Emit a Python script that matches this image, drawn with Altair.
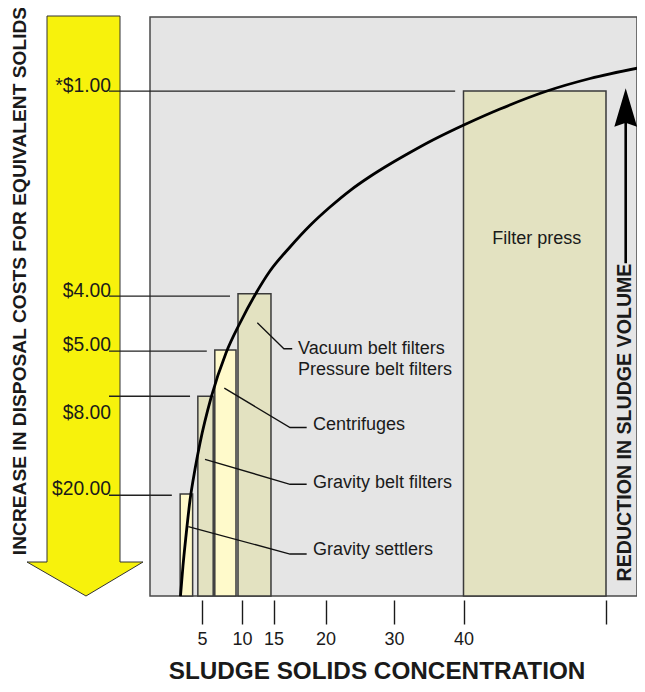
import altair as alt
import pandas as pd

FONT = "Liberation Sans"
INK = "#1a1a1a"

# --- x scale: the figure's concentration axis is not uniform (piecewise) ---
x_domain = [0, 5, 10, 15, 20, 30, 40, 50, 52.18]
x_range = [0, 52, 92, 123.5, 175.5, 244, 313.5, 456, 487]
x_ticks = [5, 10, 15, 20, 30, 40, 50]

# --- bars (dewatering processes) ---
processes = ["Gravity settlers", "Gravity belt filters", "Centrifuges",
             "Vacuum belt filters", "Filter press"]
bar_x0 = [2.9, 4.6, 6.6, 9.5, 40]
bar_x1 = [4.1, 6.4, 9.25, 14.6, 50]
bar_top = [17.6, 34.5, 42.5, 52.2, 87.2]
bar_fill = ["#fffacb", "#e3e2c1", "#fffacb", "#e3e2c1", "#e3e2c1"]

# --- disposal cost labels ---
cost_labels = ["*$1.00", "$4.00", "$5.00", "$8.00", "$20.00"]
cost_level = [87.2, 51.8, 42.3, 34.5, 17.4]
cost_label_y = [87.1, 51.7, 42.4, 30.5, 17.5]
cost_line_end = [38.8, 8.5, 5.6, 3.85, 2.1]

# --- sludge volume reduction curve ---
curve_x = [2.93, 3.17, 3.46, 3.85, 4.33, 4.81, 6.125, 8.0, 9.75, 12.06, 14.44,
           16.59, 18.51, 20.66, 23.58, 26.5, 29.42, 32.3, 35.18, 38.06, 40.25,
           42.56, 45.86, 48.88, 52.6]
curve_y = [0, 5.18, 10.36, 16.58, 21.93, 26.42, 34.2, 41.97, 47.15, 51.99, 56.13,
           60.28, 63.99, 67.18, 70.03, 72.45, 74.61, 76.6, 78.5, 80.23, 81.61,
           84.11, 87.22, 89.38, 91.36]

# --- annotation labels and their leader lines ---
ann_text = ["Vacuum belt filters", "Pressure belt filters", "Centrifuges",
            "Gravity belt filters", "Gravity settlers"]
ann_x = [17.36, 17.36, 18.8, 18.8, 18.8]
ann_y = [42.7, 39.0, 29.5, 19.6, 7.9]

lead_group = [0, 0, 0, 1, 1, 1, 2, 2, 2, 3, 3, 3]
lead_order = [0, 1, 2, 0, 1, 2, 0, 1, 2, 0, 1, 2]
lead_x = [12.43, 16.0, 16.8, 7.79, 16.59, 18.19, 5.375, 16.59, 18.19, 3.68, 16.59, 18.19]
lead_y = [47.2, 42.7, 42.7, 35.9, 29.1, 29.1, 23.6, 19.3, 19.3, 12.0, 7.25, 7.25]

press_label = ["Filter press"]
press_x = [45.14]
press_y = [61.7]

left_title = "INCREASE IN DISPOSAL COSTS FOR EQUIVALENT SOLIDS"
right_title = "REDUCTION IN SLUDGE VOLUME"
x_title = "SLUDGE SOLIDS CONCENTRATION"

# ---------------------------------------------------------------------------
xs = alt.Scale(domain=x_domain, range=x_range, nice=False, zero=False)
ys = alt.Scale(domain=[0, 100], nice=False, zero=False)

x_axis = alt.Axis(
    values=x_ticks, title=x_title, domain=False, grid=False,
    tickSize=24, tickWidth=1.4, tickColor=INK, offset=4,
    labelFont=FONT, labelFontSize=18, labelColor=INK, labelPadding=6,
    labelExpr="datum.value == 50 ? '' : datum.label",
    labelOverlap=False, labelFlush=False,
    titleFont=FONT, titleFontSize=24.3, titleFontWeight="bold", titleColor=INK,
    titleX=226.5, titleY=78, titleAlign="center", titleBaseline="alphabetic",
)


def X(field):
    return alt.X(field, type="quantitative", scale=xs, axis=x_axis)


def Y(field):
    return alt.Y(field, type="quantitative", scale=ys, axis=None)


bars_df = pd.DataFrame({"process": processes, "x0": bar_x0, "x1": bar_x1,
                        "top": bar_top, "fill": bar_fill})
bars_df["base"] = 0.0
bars = alt.Chart(bars_df).mark_rect(stroke="#3a3a3a", strokeWidth=1.5).encode(
    x=X("x0"), x2="x1", y=Y("base"), y2="top",
    fill=alt.Fill("fill:N", scale=None),
)

curve_df = pd.DataFrame({"x": curve_x, "y": curve_y})
curve = alt.Chart(curve_df).mark_line(
    color="#000", strokeWidth=2.8, interpolate="monotone", clip=True
).encode(x=X("x"), y=Y("y"))

cost_df = pd.DataFrame({"label": cost_labels, "level": cost_level,
                        "ly": cost_label_y, "end": cost_line_end})
cost_lines = alt.Chart(cost_df).mark_rule(color="#222", strokeWidth=1.3).encode(
    x=X("end"), x2=alt.value(-41), y=Y("level"),
)
cost_text = alt.Chart(cost_df).mark_text(
    font=FONT, fontSize=19.3, align="right", baseline="alphabetic", color=INK
).encode(x=alt.value(-39), y=Y("ly"), text="label:N")

lead_df = pd.DataFrame({"g": lead_group, "o": lead_order, "x": lead_x, "y": lead_y})
leads = alt.Chart(lead_df).mark_line(color="#111", strokeWidth=1.3).encode(
    x=X("x"), y=Y("y"), detail="g:N", order="o:Q",
)

ann_df = pd.DataFrame({"t": ann_text, "x": ann_x, "y": ann_y})
ann = alt.Chart(ann_df).mark_text(
    font=FONT, fontSize=18, align="left", baseline="middle", color=INK
).encode(x=X("x"), y=Y("y"), text="t:N")

press_df = pd.DataFrame({"t": press_label, "x": press_x, "y": press_y})
press = alt.Chart(press_df).mark_text(
    font=FONT, fontSize=18, align="center", baseline="middle", color=INK
).encode(x=X("x"), y=Y("y"), text="t:N")

one = pd.DataFrame({"t": [""]})

yellow_arrow = alt.Chart(one).mark_point(
    shape="M-0.131,-1 L0.1207,-1 L0.1207,0.8828 L0.2,0.8828 L0.0034,1 L-0.2,0.8828 L-0.131,0.8828 Z",
    size=336400, filled=True, fill="#f7f20c", stroke="#333333", strokeWidth=1,
    opacity=1,
).encode(x=alt.value(-65), y=alt.value(289))

black_arrow = alt.Chart(one).mark_point(
    shape="M0,-1 L0.13,-0.561 L0.0149,-0.6 L0.0149,1 L-0.0149,1 L-0.0149,-0.6 L-0.13,-0.561 Z",
    size=30625, filled=True, fill="#000", strokeWidth=0, opacity=1,
).encode(x=alt.value(475.7), y=alt.value(158.8))

left_t = alt.Chart(pd.DataFrame({"t": [left_title]})).mark_text(
    font=FONT, fontSize=19.2, fontWeight="bold", angle=270, align="center",
    baseline="middle", color=INK
).encode(x=alt.value(-130), y=alt.value(264), text="t:N")

right_t = alt.Chart(pd.DataFrame({"t": [right_title]})).mark_text(
    font=FONT, fontSize=19.6, fontWeight="bold", angle=270, align="center",
    baseline="middle", color=INK
).encode(x=alt.value(475), y=alt.value(405.5), text="t:N")

chart = alt.layer(
    yellow_arrow, bars, curve, cost_lines, cost_text, leads, ann, press,
    black_arrow, left_t, right_t,
).properties(
    width=487, height=579,
    autosize=alt.AutoSizeParams(type="none"),
    padding={"left": 142, "top": 9, "right": 0, "bottom": 88},
).configure_view(
    fill="#e5e5e5", stroke="#4a4a4a", strokeWidth=1.5,
)

chart.save("out.html", embed_options={"renderer": "svg", "actions": False})
